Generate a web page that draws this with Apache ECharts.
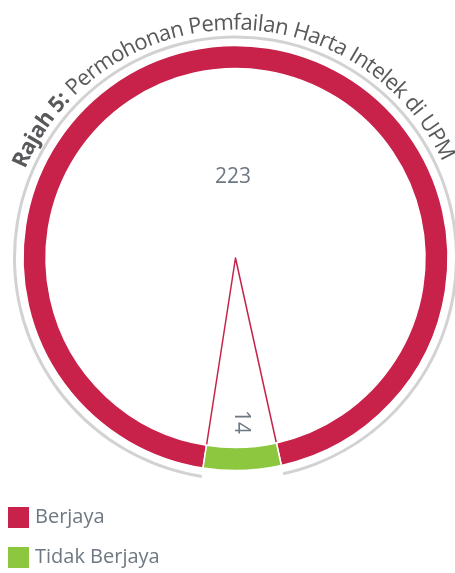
<!DOCTYPE html>
<html>
<head>
<meta charset="utf-8">
<script src="https://cdn.jsdelivr.net/npm/echarts@6/dist/echarts.min.js"></script>
<style>
html, body { margin: 0; padding: 0; background: #fff; }
#chart { width: 455px; height: 573px; }
</style>
</head>
<body>
<div id="chart"></div>
<script>
// data
var categories = ['Berjaya', 'Tidak Berjaya'];
var values = [223, 14];
var colors = ['#c8224a', '#8dc63f'];
var titleBold = 'Rajah 5:';
var titleRest = ' Permohonan Pemfailan Harta Intelek di UPM';

var cx = 235.5, cy = 258;
var startAngle = 261.2;
var labelColor = '#6d7882';

// curved title, one text element per character
var measure = document.createElement('canvas').getContext('2d');
function arcText(parts, r, fromDeg, toDeg, size) {
    var chars = [];
    parts.forEach(function (p) {
        measure.font = p.weight + ' ' + size + 'px "Open Sans"';
        p.text.split('').forEach(function (ch) {
            chars.push({ ch: ch, w: measure.measureText(ch).width, weight: p.weight });
        });
    });
    var total = 0;
    chars.forEach(function (c) { total += c.w; });
    var pos = 0, out = [];
    chars.forEach(function (c) {
        var a = (fromDeg + (pos + c.w / 2) / total * (toDeg - fromDeg)) * Math.PI / 180;
        pos += c.w;
        var rr = r + size * 0.35;
        out.push({
            type: 'text',
            x: cx + rr * Math.sin(a),
            y: cy - rr * Math.cos(a),
            rotation: -a,
            silent: true,
            style: {
                text: c.ch,
                fontSize: size,
                fontWeight: c.weight,
                fontFamily: 'Open Sans',
                fill: '#58595b',
                align: 'center',
                verticalAlign: 'middle'
            }
        });
    });
    return out;
}

function items(fn) {
    return categories.map(function (n, i) {
        var d = { name: n, value: values[i] };
        return fn(d, i);
    });
}

var common = {
    type: 'pie',
    center: [cx, cy],
    startAngle: startAngle,
    silent: true,
    avoidLabelOverlap: false,
    emphasis: { disabled: true },
    labelLine: { show: false }
};

var myChart = echarts.init(document.getElementById('chart'), null, { renderer: 'canvas' });

var option = {
    backgroundColor: '#fff',
    animation: false,
    graphic: arcText([
        { text: titleBold, weight: 'bold' },
        { text: titleRest, weight: 'normal' }
    ], 227, -67, 65, 22),
    legend: {
        orient: 'vertical',
        left: 6,
        top: 505,
        padding: 0,
        itemWidth: 23,
        itemHeight: 23,
        itemGap: 15,
        icon: 'rect',
        selectedMode: false,
        textStyle: { fontSize: 20, color: labelColor, fontFamily: 'Open Sans' },
        data: categories.map(function (n, i) {
            return { name: n, itemStyle: { color: colors[i] } };
        })
    },
    series: [
        Object.assign({}, common, {
            name: 'ring',
            z: 3,
            radius: [189.5, 212.5],
            label: { show: false },
            itemStyle: { borderColor: '#fff', borderWidth: 1.5 },
            data: items(function (d, i) {
                d.itemStyle = { color: colors[i] };
                return d;
            })
        }),
        Object.assign({}, common, {
            name: 'outline',
            z: 2,
            radius: [219.5, 222.5],
            label: { show: false },
            data: items(function (d, i) {
                d.itemStyle = { color: i === 0 ? '#d2d2d2' : 'rgba(0,0,0,0)' };
                return d;
            })
        }),
        Object.assign({}, common, {
            name: 'wedge',
            z: 1,
            radius: [0, 191],
            label: { show: false },
            data: items(function (d, i) {
                d.itemStyle = i === 0
                    ? { color: 'rgba(0,0,0,0)', borderWidth: 0 }
                    : { color: '#fff', borderColor: colors[0], borderWidth: 1.5 };
                return d;
            })
        }),
        Object.assign({}, common, {
            name: 'labelBig',
            z: 4,
            radius: [0, 156],
            label: {
                show: true, position: 'inside', formatter: '{c}',
                color: labelColor, fontSize: 21, fontFamily: 'Open Sans'
            },
            data: items(function (d, i) {
                d.itemStyle = { color: 'rgba(0,0,0,0)' };
                if (i !== 0) d.label = { show: false };
                return d;
            })
        }),
        Object.assign({}, common, {
            name: 'labelSmall',
            z: 4,
            radius: [130, 192],
            label: {
                show: true, position: 'inside', formatter: '{c}', rotate: -90,
                color: labelColor, fontSize: 21, fontFamily: 'Open Sans'
            },
            data: items(function (d, i) {
                d.itemStyle = { color: 'rgba(0,0,0,0)' };
                if (i === 0) d.label = { show: false };
                return d;
            })
        })
    ]
};

myChart.setOption(option);
</script>
</body>
</html>
